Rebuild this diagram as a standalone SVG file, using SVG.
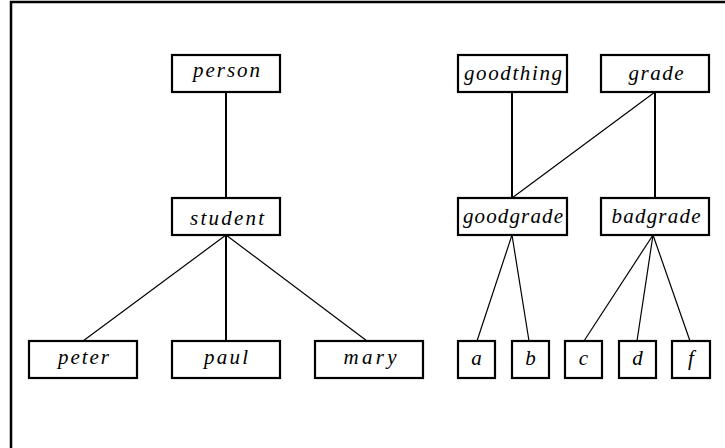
<svg xmlns="http://www.w3.org/2000/svg" width="725" height="448" viewBox="0 0 725 448">
<style>
rect.n{fill:#fff;stroke:#000;stroke-width:2.2}
text{font-family:"Liberation Serif","DejaVu Serif",serif;font-style:italic;font-size:21px;fill:#000;text-anchor:middle}
.v{stroke:#000;stroke-width:2;fill:none}
.d{stroke:#000;stroke-width:1.2;fill:none}
.frame{stroke:#000;stroke-width:2.5;fill:none}
</style>
<rect width="725" height="448" fill="#fff"/>
<path class="frame" d="M11,448 V2 H725"/>
<g id="connectors">
<line class="v" x1="226" y1="92" x2="226" y2="198"/>
<line class="d" x1="226" y1="235" x2="83" y2="341"/>
<line class="v" x1="226" y1="235" x2="226" y2="341"/>
<line class="d" x1="226" y1="235" x2="367" y2="341"/>
<line class="v" x1="512" y1="92" x2="512" y2="198"/>
<line class="d" x1="655" y1="92" x2="512" y2="198"/>
<line class="v" x1="655" y1="92" x2="655" y2="198"/>
<line class="d" x1="512" y1="235" x2="477" y2="341"/>
<line class="d" x1="512" y1="235" x2="529" y2="341"/>
<line class="d" x1="653" y1="235" x2="584" y2="341"/>
<line class="d" x1="653" y1="235" x2="637" y2="341"/>
<line class="d" x1="653" y1="235" x2="690" y2="341"/>
</g>
<g id="person"><rect class="n" x="172" y="55" width="108" height="37"/><text x="226.5" y="77" textLength="67" lengthAdjust="spacing">person</text></g>
<g id="student"><rect class="n" x="172" y="198" width="108" height="37"/><text x="227" y="225" textLength="74" lengthAdjust="spacing">student</text></g>
<g id="peter"><rect class="n" x="29" y="341" width="108" height="37"/><text x="83.5" y="364" textLength="51" lengthAdjust="spacing">peter</text></g>
<g id="paul"><rect class="n" x="172" y="341" width="108" height="37"/><text x="226" y="364" textLength="44" lengthAdjust="spacing">paul</text></g>
<g id="mary"><rect class="n" x="315" y="341" width="108" height="37"/><text x="370" y="364" textLength="53" lengthAdjust="spacing">mary</text></g>
<g id="goodthing"><rect class="n" x="458" y="55" width="109" height="37"/><text x="513" y="80" textLength="98" lengthAdjust="spacing">goodthing</text></g>
<g id="grade"><rect class="n" x="601" y="55" width="108" height="37"/><text x="656" y="80" textLength="55" lengthAdjust="spacing">grade</text></g>
<g id="goodgrade"><rect class="n" x="458" y="198" width="109" height="37"/><text x="513" y="223" textLength="100" lengthAdjust="spacing">goodgrade</text></g>
<g id="badgrade"><rect class="n" x="601" y="198" width="108" height="37"/><text x="656" y="223" textLength="89" lengthAdjust="spacing">badgrade</text></g>
<g id="a"><rect class="n" x="458" y="341" width="37" height="37"/><text x="476.5" y="365">a</text></g>
<g id="b"><rect class="n" x="512" y="341" width="37" height="37"/><text x="530.5" y="365">b</text></g>
<g id="c"><rect class="n" x="565" y="341" width="37" height="37"/><text x="583.5" y="365">c</text></g>
<g id="d"><rect class="n" x="619" y="341" width="37" height="37"/><text x="637.5" y="365">d</text></g>
<g id="f"><rect class="n" x="672" y="341" width="38" height="37"/><text x="691" y="365">f</text></g>
</svg>
